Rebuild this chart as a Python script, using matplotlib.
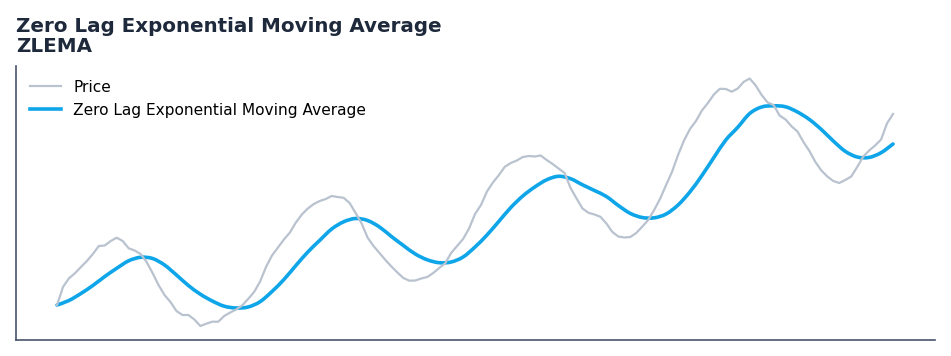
import numpy as np
import matplotlib
matplotlib.use("Agg")
import matplotlib.pyplot as plt
from matplotlib.path import Path
from matplotlib.patches import PathPatch
from matplotlib.lines import Line2D

# daily closes (day 0..140)
price = [
    50.00, 51.80, 52.67, 53.17, 53.80, 54.40, 55.10, 55.90, 55.95, 56.40,
    56.73, 56.40, 55.67, 55.45, 55.10, 54.30, 53.20, 52.00, 51.00, 50.30,
    49.40, 49.00, 49.00, 48.55, 47.90, 48.13, 48.33, 48.33, 48.90, 49.25,
    49.55, 49.95, 50.60, 51.30, 52.33, 53.80, 54.95, 55.75, 56.55, 57.25,
    58.25, 59.05, 59.65, 60.10, 60.40, 60.60, 60.90, 60.80, 60.72, 60.20,
    59.20, 58.17, 56.75, 55.90, 55.20, 54.50, 53.85, 53.25, 52.70, 52.43,
    52.45, 52.65, 52.80, 53.20, 53.70, 54.17, 55.20, 55.90, 56.60, 57.65,
    59.10, 60.00, 61.35, 62.25, 63.00, 63.83, 64.20, 64.45, 64.80, 64.90,
    64.85, 64.95, 64.50, 64.10, 63.65, 63.20, 61.70, 60.65, 59.65, 59.22,
    59.05, 58.82, 58.15, 57.30, 56.85, 56.75, 56.80, 57.20, 57.83, 58.50,
    59.50, 60.63, 62.00, 63.33, 65.00, 66.45, 67.60, 68.40, 69.45, 70.20,
    71.05, 71.62, 71.60, 71.33, 71.65, 72.32, 72.65, 71.95, 71.00, 70.25,
    70.00, 68.95, 68.55, 67.87, 67.35, 66.30, 65.40, 64.30, 63.45, 62.85,
    62.40, 62.20, 62.50, 62.85, 63.80, 64.83, 65.45, 65.95, 66.55, 68.17,
    69.10,
]
days = np.arange(len(price))

# ZLEMA, read every 2nd day
zlema_days = np.arange(0, 141, 2)
zlema = [
    50.00, 50.45, 51.15, 51.95, 52.85, 53.67, 54.42, 54.77, 54.65, 54.00,
    53.00, 51.95, 51.08, 50.40, 49.88, 49.70, 49.80, 50.33, 51.35, 52.55,
    53.95, 55.30, 56.47, 57.60, 58.32, 58.65, 58.45, 57.80, 56.85, 55.95,
    55.10, 54.52, 54.23, 54.30, 54.80, 55.80, 57.00, 58.37, 59.75, 60.90,
    61.80, 62.52, 62.87, 62.63, 62.02, 61.45, 60.85, 59.95, 59.16, 58.75,
    58.72, 59.10, 60.00, 61.32, 62.95, 64.75, 66.50, 67.77, 69.15, 69.80,
    69.92, 69.82, 69.30, 68.55, 67.55, 66.40, 65.37, 64.80, 64.76, 65.23,
    66.10,
]

PRICE_C = "#b9c2cf"
ZLEMA_C = "#0ea5e9"
TEXT_C = "#1e293b"
SPINE_C = "#475569"


def smooth_path(x, y):
    # Catmull-Rom through the points, drawn as cubic beziers
    p = np.column_stack([x, y]).astype(float)
    verts = [p[0]]; codes = [Path.MOVETO]
    for i in range(len(p) - 1):
        p0 = p[max(i - 1, 0)]; p1 = p[i]; p2 = p[i + 1]; p3 = p[min(i + 2, len(p) - 1)]
        verts += [p1 + (p2 - p0) / 6, p2 - (p3 - p1) / 6, p2]
        codes += [Path.CURVE4] * 3
    return Path(verts, codes)


fig = plt.figure(figsize=(9.51, 3.56), dpi=100)
ax = fig.add_axes([16/951, 16/356, 919/951, 274/356])

ax.plot(days, price, color=PRICE_C, lw=1.6, label="Price")
ax.add_patch(PathPatch(smooth_path(zlema_days, zlema), fill=False,
                       edgecolor=ZLEMA_C, lw=2.6, capstyle="round"))

ax.set_xlim(-6.87, 147.03)
ax.set_ylim(46.5, 73.9)
ax.set_xticks([]); ax.set_yticks([])
for s in ("top", "right"):
    ax.spines[s].set_visible(False)
for s in ("left", "bottom"):
    ax.spines[s].set_color(SPINE_C)
    ax.spines[s].set_linewidth(1.2)

ax.set_title("Zero Lag Exponential Moving Average\nZLEMA", loc="left",
             fontsize=14.3, fontweight="bold", color=TEXT_C, pad=10, linespacing=1.08)
handles = [Line2D([], [], color=PRICE_C, lw=1.6),
           Line2D([], [], color=ZLEMA_C, lw=2.6)]
ax.legend(handles, ["Price", "Zero Lag Exponential Moving Average"],
          loc="upper left", frameon=False, fontsize=11.1, handlelength=2.0,
          borderaxespad=0.5)

fig.savefig("out.png", dpi=100)
